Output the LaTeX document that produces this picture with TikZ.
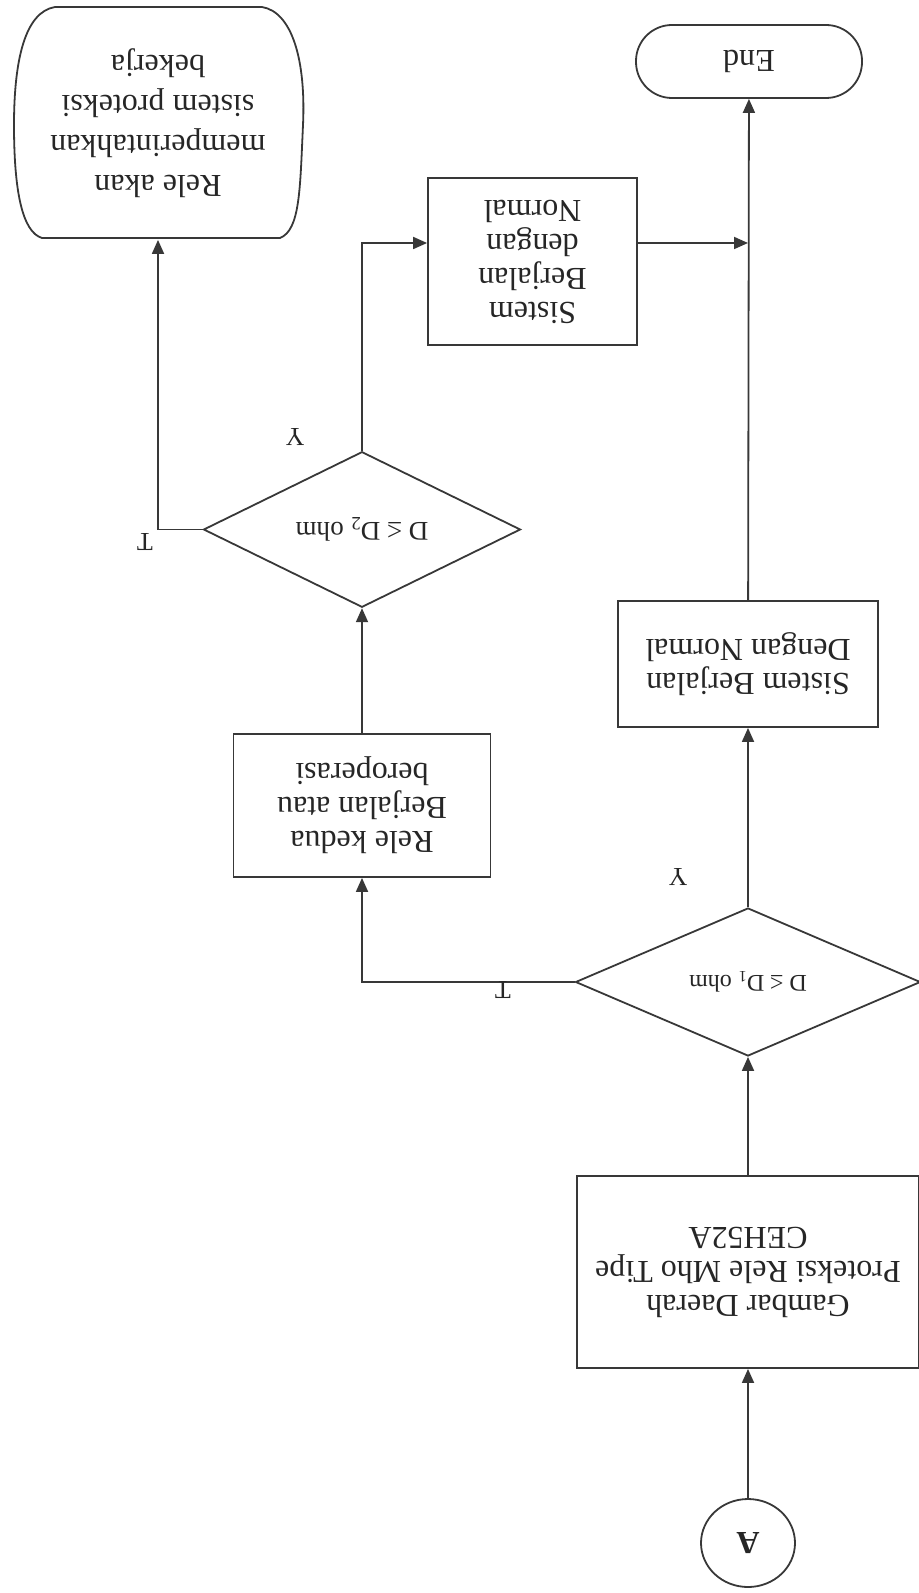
\documentclass[tikz,border=0pt]{standalone}
\usepackage{fontspec}
\setmainfont{Liberation Serif}
\usetikzlibrary{arrows.meta,shapes.geometric}
\begin{document}
\begin{tikzpicture}[x=0.5pt,y=-0.5pt,
  lin/.style={draw=black!78, line width=0.9pt},
  base/.style={lin, rotate=180, text=black!85, inner sep=0pt, align=center, font=\fontsize{16}{17}\selectfont},
  boxnode/.style={base, rectangle},
  decision/.style={base, diamond},
  arr/.style={lin, -{Triangle[length=7pt,width=6pt]}},
  lbl/.style={rotate=180, text=black!85, font=\fontsize{13}{13}\selectfont, inner sep=0pt}]
\useasboundingbox (0,0) rectangle (919,1593);
% nodes
\node[base, ellipse, minimum width=47pt, minimum height=44pt] (A) at (748,1543) {\textbf{A}};
\node[boxnode, minimum width=171pt, minimum height=96pt] (b1) at (748,1272)
  {Gambar Daerah\\Proteksi Rele Mho Tipe\\CEH52A};
\node[decision, minimum width=172.5pt, minimum height=74pt, font=\fontsize{12}{13}\selectfont] (d1) at (748,982)
  {D ≤ D\textsubscript{1} ohm};
\node[boxnode, minimum width=130pt, minimum height=63pt] (b2) at (748,664)
  {Sistem Berjalan\\Dengan Normal};
\node[boxnode, rounded corners=18pt, minimum width=113pt, minimum height=36.5pt] (end) at (749,61.5) {End};
\node[boxnode, minimum width=128.5pt, minimum height=71.5pt] (b3) at (362,805.5)
  {Rele kedua\\Berjalan atau\\beroperasi};
\node[decision, minimum width=158.5pt, minimum height=70.5pt, font=\fontsize{13.5}{14}\selectfont] (d2) at (362,529.5)
  {D ≤ D\textsubscript{2} ohm};
\node[boxnode, minimum width=104.5pt, minimum height=83.5pt] (b4) at (532.5,261.5)
  {Sistem\\Berjalan\\dengan\\Normal};
\node[base, draw=none, minimum width=145pt, minimum height=116pt, font=\fontsize{16}{20}\selectfont] (term) at (158,123)
  {Rele akan\\memperintahkan\\sistem proteksi\\bekerja};
% terminal outline
\draw[lin] (55,7) -- (262,7) .. controls (292,12) and (306,60) .. (303,125)
  .. controls (300,190) and (300,230) .. (280,238) -- (42,238)
  .. controls (22,232) and (14,190) .. (14,125)
  .. controls (14,60) and (25,12) .. (55,7) -- cycle;
% coordinates
\coordinate (j1) at (362,243);
\coordinate (j2) at (748,243);
% connectors
\draw[arr] (A) -- (b1);
\draw[arr] (b1) -- (d1);
\draw[arr] (d1) -- (b2);
\draw[arr] (b2) -- (end);
\draw[arr] (d1) -| (b3);
\draw[arr] (b3) -- (d2);
\draw[arr] (d2) -- (j1) -- (j1 -| b4.east);
\draw[arr] (j1 -| b4.west) -- (j2);
\draw[arr] (d2) -| (term);
% labels
\node[lbl] (y1) at (678,877) {Y};
\node[lbl] (y2) at (295,437) {Y};
\node[lbl] (t1) at (503,990) {T};
\node[lbl] (t2) at (145,542) {T};
\end{tikzpicture}
\end{document}
